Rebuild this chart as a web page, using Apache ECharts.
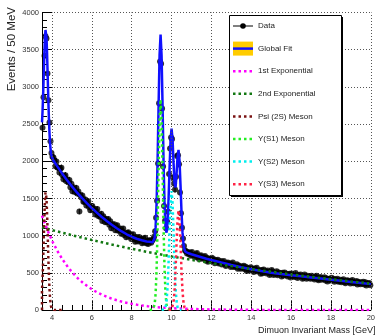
<!DOCTYPE html>
<html>
<head>
<meta charset="utf-8">
<script src="https://cdn.jsdelivr.net/npm/echarts@6/dist/echarts.min.js"></script>
<style>
  html, body { margin: 0; padding: 0; background: #fff; }
  #main { width: 378px; height: 336px; }
</style>
</head>
<body>
<div id="main"></div>
<script>
// Dimuon invariant mass spectrum, 50 MeV bins starting at 3.5 GeV
const binStart = 3.525;
const binWidth = 0.05;
const eventsPerBin = [
  2450, 2860, 3420, 3680, 3650, 3180, 2820, 2520, 2270, 2110, 2060, 2050,
  2011, 1934, 1996, 1916, 1914, 1848, 1899, 1911, 1813, 1757,
  1803, 1813, 1730, 1753, 1716, 1749, 1649, 1696, 1596, 1650,
  1625, 1582, 1642, 1565, 1592, 1324, 1547, 1511, 1540, 1455,
  1458, 1485, 1406, 1438, 1462, 1382, 1341, 1394, 1400, 1345,
  1361, 1285, 1326, 1359, 1263, 1282, 1251, 1295, 1198, 1259,
  1230, 1180, 1221, 1182, 1224, 1145, 1192, 1098, 1154, 1131,
  1153, 1073, 1119, 1139, 1066, 1073, 1095, 1024, 1061, 1095,
  1009, 1033, 977, 1036, 1044, 989, 1022, 954, 989, 1018,
  952, 919, 983, 958, 922, 983, 935, 956, 897, 961,
  915, 973, 899, 931, 886, 937,
  935, 905, 930, 950, 985, 1060, 1240, 1470, 1970, 2780,
  3340, 3310, 2710, 1930, 1400, 1200, 1100, 1190, 1320, 1830,
  2170, 2320, 2300, 1780, 1700, 1620, 1790, 2070, 2080, 1960,
  1580, 1300, 1105, 960, 860, 800, 790, 760, 780, 750,
  770, 730, 779, 736, 744, 709, 751, 766, 712, 685,
  722, 736, 690, 713, 696, 725, 667, 704, 648, 689,
  679, 659, 704, 661, 684, 630, 668, 651, 676, 626,
  634, 658, 612, 638, 659, 612, 591, 630, 640, 608,
  624, 579, 611, 637, 579, 596, 581, 614, 555, 599,
  584, 556, 586, 564, 595, 548, 582, 525, 565, 554,
  531, 574, 544, 555, 511, 559, 530, 567, 516, 530,
  534, 487, 537, 494, 546, 511, 522, 492, 532, 512,
  469, 490, 538, 517, 470, 499, 485, 522, 467, 503,
  486, 493, 449, 501, 463, 505, 470, 487, 452, 476,
  486, 438, 492, 455, 465, 444, 497, 467, 430, 471,
  450, 477, 462, 419, 435, 477, 451, 421, 461, 433,
  452, 421, 462, 430, 437, 411, 446, 460, 418, 399,
  430, 443, 408, 428, 416, 441, 396, 428, 383, 418,
  412, 397, 434, 401, 421, 379, 411, 398, 419, 381,
  388, 408, 373, 395, 412, 377, 360, 393, 401, 378,
  391, 357, 383, 405, 359, 374, 362, 390, 343, 380,
  368, 347, 372, 355, 381, 344, 372, 328, 359, 352,
  362, 334
];

// Fitted model curves: [mass (GeV), events / 50 MeV]
const globalFit = [
  [3.5, 2523], [3.525, 2659], [3.55, 2838], [3.575, 3053], [3.6, 3283], [3.625, 3501],
  [3.65, 3671], [3.675, 3765], [3.69, 3776], [3.7, 3764], [3.725, 3665], [3.75, 3486],
  [3.775, 3254], [3.8, 3002], [3.825, 2760], [3.85, 2551], [3.875, 2385], [3.9, 2260],
  [3.925, 2174], [3.95, 2116], [3.975, 2078], [4.0, 2053], [4.05, 2020], [4.1, 1996],
  [4.25, 1938], [4.5, 1840], [4.75, 1748], [5.0, 1662], [5.25, 1582], [5.5, 1507],
  [5.75, 1437], [6.0, 1371], [6.25, 1309], [6.5, 1251], [6.75, 1197], [7.0, 1146],
  [7.25, 1099], [7.5, 1056], [7.75, 1018], [8.0, 985], [8.25, 958], [8.5, 937],
  [8.75, 922], [8.9, 917], [8.95, 913], [9.0, 910], [9.05, 909], [9.1, 919],
  [9.15, 966], [9.2, 1107], [9.25, 1430], [9.3, 2003], [9.35, 2754], [9.4, 3430],
  [9.45, 3703], [9.5, 3423], [9.55, 2739], [9.6, 1982], [9.65, 1409], [9.7, 1107],
  [9.75, 1040], [9.8, 1170], [9.85, 1478], [9.9, 1898], [9.95, 2279], [10.0, 2438],
  [10.05, 2302], [10.1, 1982], [10.15, 1706], [10.2, 1649], [10.25, 1818], [10.3, 2054],
  [10.35, 2152], [10.4, 2010], [10.45, 1682], [10.5, 1320], [10.55, 1043], [10.6, 884],
  [10.65, 812], [10.7, 783], [10.75, 773], [10.8, 767], [10.85, 763], [10.9, 759],
  [11.0, 750], [11.25, 730], [11.5, 710], [11.75, 690], [12.0, 672], [12.5, 638],
  [13.0, 605], [13.5, 575], [14.0, 547], [14.5, 523], [15.0, 502], [15.5, 484],
  [16.0, 468], [16.5, 453], [17.0, 438], [17.5, 423], [18.0, 408], [18.5, 393],
  [19.0, 378], [19.5, 363], [20.0, 348]
];
const firstExponential = [
  [3.5, 1268], [3.55, 1230], [3.8, 1057], [4.05, 908], [4.3, 781], [4.55, 671],
  [4.8, 577], [5.05, 496], [5.3, 426], [5.55, 366], [5.8, 315], [6.05, 270],
  [6.3, 232], [6.55, 200], [6.8, 172], [7.05, 148], [7.3, 127], [7.55, 109],
  [7.8, 94], [8.05, 80], [8.3, 69], [8.55, 59], [8.8, 51], [9.05, 44],
  [9.3, 38], [9.55, 32], [9.8, 28], [10.05, 24], [10.55, 18], [11.05, 13],
  [11.55, 10], [12.05, 7], [13.0, 4], [14.0, 2], [15.0, 1], [17.0, 0], [20.0, 0]
];
const secondExponential = [
  [3.5, 1112], [4.0, 1075], [5.0, 1006], [6.0, 941], [7.0, 880], [8.0, 823],
  [9.0, 770], [10.0, 721], [11.0, 674], [12.0, 631], [13.0, 590], [14.0, 550],
  [15.0, 515], [16.0, 478], [17.0, 446], [18.0, 414], [19.0, 384], [20.0, 355]
];
const psi2S = [
  [3.5, 0], [3.5, 263], [3.525, 410], [3.55, 600], [3.575, 826], [3.6, 1067],
  [3.625, 1296], [3.65, 1477], [3.675, 1582], [3.69, 1600], [3.7, 1592], [3.725, 1504],
  [3.75, 1336], [3.775, 1115], [3.8, 874], [3.825, 643], [3.85, 445], [3.875, 290],
  [3.9, 176], [3.925, 101], [3.95, 54], [3.975, 27], [4.0, 13], [4.05, 2], [4.1, 0], [4.5, 0]
];
const upsilon1S = [
  [8.9, 0], [9.0, 1], [9.05, 4], [9.1, 18], [9.15, 69], [9.2, 214], [9.25, 541],
  [9.3, 1118], [9.35, 1873], [9.4, 2553], [9.45, 2830], [9.5, 2553], [9.55, 1873],
  [9.6, 1118], [9.65, 541], [9.7, 214], [9.75, 69], [9.8, 18], [9.85, 4], [9.9, 1], [10.0, 0]
];
const upsilon2S = [
  [9.5, 0], [9.6, 2], [9.65, 10], [9.7, 39], [9.75, 121], [9.8, 306], [9.85, 632],
  [9.9, 1059], [9.95, 1443], [10.0, 1600], [10.05, 1443], [10.1, 1059], [10.15, 632],
  [10.2, 306], [10.25, 121], [10.3, 39], [10.35, 10], [10.4, 2], [10.5, 0]
];
const upsilon3S = [
  [9.85, 0], [9.95, 2], [10.0, 8], [10.05, 33], [10.1, 101], [10.15, 256], [10.2, 529],
  [10.25, 887], [10.3, 1209], [10.35, 1340], [10.4, 1209], [10.45, 887], [10.5, 529],
  [10.55, 256], [10.6, 101], [10.65, 33], [10.7, 8], [10.75, 2], [10.85, 0]
];

// Axis ticks
const xMajorTicks = [4, 6, 8, 10, 12, 14, 16, 18, 20];
const xMinorTicks = [4.5, 5, 5.5, 6.5, 7, 7.5, 8.5, 9, 9.5, 10.5, 11, 11.5, 12.5, 13, 13.5,
  14.5, 15, 15.5, 16.5, 17, 17.5, 18.5, 19, 19.5];

// Legend entries
const legendLabels = ['Data', 'Global Fit', '1st Exponential', '2nd Exponential',
  'Psi (2S) Meson', 'Y(S1) Meson', 'Y(S2) Meson', 'Y(S3) Meson'];

const FONT = '"Liberation Sans", Arial, Helvetica, sans-serif';
const dotDash = [2.5, 3];
const componentColors = ['#ff00ff', '#117711', '#7a1212', '#22ee22', '#00eeee', '#ff2244'];
const componentData = [firstExponential, secondExponential, psi2S, upsilon1S, upsilon2S, upsilon3S];

const dataPoints = eventsPerBin.map((v, i) => [binStart + i * binWidth, v]);

const chart = echarts.init(document.getElementById('main'), null, { renderer: 'canvas' });

const componentSeries = componentData.map((d, k) => ({
  type: 'line',
  data: d,
  showSymbol: false,
  symbol: 'none',
  z: 5,
  lineStyle: { color: componentColors[k], width: 2.5, type: dotDash, cap: 'butt' }
}));

// Legend box drawn as graphic elements
const legendX = 229.5, legendY = 15.5, legendW = 112, legendH = 180;
const rowTop = 26, rowGap = 22.6;
const symL = 233, symR = 253, textX = 258;
const graphics = [
  { type: 'rect', shape: { x: legendX + 1.5, y: legendY + 1.5, width: legendW, height: legendH },
    style: { fill: '#000' }, z: 100 },
  { type: 'rect', shape: { x: legendX, y: legendY, width: legendW, height: legendH },
    style: { fill: '#fff', stroke: '#000', lineWidth: 1 }, z: 101 }
];
legendLabels.forEach((label, i) => {
  const cy = rowTop + i * rowGap;
  if (i === 0) {
    graphics.push({ type: 'line', shape: { x1: symL, y1: cy, x2: symR, y2: cy },
      style: { stroke: '#000', lineWidth: 1 }, z: 102 });
    graphics.push({ type: 'circle', shape: { cx: (symL + symR) / 2, cy: cy, r: 2.8 },
      style: { fill: '#000' }, z: 103 });
  } else if (i === 1) {
    graphics.push({ type: 'rect', shape: { x: symL, y: cy - 7, width: symR - symL, height: 14 },
      style: { fill: '#ffcc00' }, z: 102 });
    graphics.push({ type: 'line', shape: { x1: symL, y1: cy, x2: symR, y2: cy },
      style: { stroke: '#1010ff', lineWidth: 2.5 }, z: 103 });
  } else {
    graphics.push({ type: 'line', shape: { x1: symL, y1: cy, x2: symR, y2: cy },
      style: { stroke: componentColors[i - 2], lineWidth: 2.5, lineDash: dotDash }, z: 102 });
  }
  graphics.push({ type: 'text', x: textX, y: cy, z: 103,
    style: { text: label, fill: '#222', font: '8px ' + FONT,
      align: 'left', verticalAlign: 'middle', textAlign: 'left', textVerticalAlign: 'middle' } });
});
// Axis titles
graphics.push({ type: 'text', x: 12, y: 7, rotation: Math.PI / 2, z: 50,
  style: { text: 'Events / 50 MeV', fill: '#222', font: '11.5px ' + FONT,
    align: 'right', verticalAlign: 'middle', textAlign: 'right', textVerticalAlign: 'middle' } });
graphics.push({ type: 'text', x: 258, y: 331, z: 50,
  style: { text: 'Dimuon Invariant Mass [GeV]', fill: '#222', font: '9px ' + FONT,
    align: 'left', verticalAlign: 'middle', textAlign: 'left', textVerticalAlign: 'middle' } });

chart.setOption({
  animation: false,
  backgroundColor: '#fff',
  textStyle: { fontFamily: FONT },
  grid: { left: 42, right: 4.5, top: 12.5, bottom: 26, containLabel: false },
  xAxis: [
    {
      type: 'value', min: 3.5, max: 20,
      axisLine: { show: true, lineStyle: { color: '#000', width: 1 } },
      axisTick: { show: true, inside: true, length: 10, customValues: xMajorTicks,
        lineStyle: { color: '#000', width: 1 } },
      axisLabel: { show: true, customValues: xMajorTicks, fontSize: 7.5, color: '#333', margin: 4,
        formatter: v => String(v) },
      splitLine: { show: false }
    },
    {
      type: 'value', min: 3.5, max: 20, position: 'bottom',
      axisLine: { show: false },
      axisTick: { show: true, inside: true, length: 5, customValues: xMinorTicks,
        lineStyle: { color: '#000', width: 1 } },
      axisLabel: { show: false },
      splitLine: { show: false }
    }
  ],
  yAxis: {
    type: 'value', min: 0, max: 4000, interval: 500,
    axisLine: { show: true, lineStyle: { color: '#000', width: 1 } },
    axisTick: { show: true, inside: true, length: 10, lineStyle: { color: '#000', width: 1 } },
    minorTick: { show: true, splitNumber: 5, length: 5, lineStyle: { color: '#000', width: 1 } },
    axisLabel: { fontSize: 7.5, color: '#333', margin: 3, formatter: v => String(v) },
    splitLine: { show: true, lineStyle: { color: '#555', width: 1, type: [1, 2] } }
  },
  graphic: graphics,
  series: [
    {
      // vertical grid lines at the major mass ticks
      type: 'line', data: [], z: 1, silent: true,
      markLine: {
        silent: true, symbol: ['none', 'none'], label: { show: false },
        lineStyle: { color: '#555', width: 1, type: [1, 2] },
        data: xMajorTicks.map(v => ({ xAxis: v }))
      }
    },
    {
      // Poisson error bars on the data
      type: 'custom', z: 2, silent: true,
      data: dataPoints,
      renderItem: function (params, api) {
        const x = api.value(0), v = api.value(1), e = Math.sqrt(v);
        const p1 = api.coord([x, v - e]);
        const p2 = api.coord([x, v + e]);
        return { type: 'line', shape: { x1: p1[0], y1: p1[1], x2: p2[0], y2: p2[1] },
          style: { stroke: '#000', lineWidth: 1 } };
      }
    },
    {
      type: 'scatter', z: 3, data: dataPoints, symbol: 'circle', symbolSize: 6,
      itemStyle: { color: '#000' }
    },
    {
      type: 'line', z: 4, data: globalFit, showSymbol: false, symbol: 'none',
      lineStyle: { color: '#1010ff', width: 2.5 }
    }
  ].concat(componentSeries)
});
</script>
</body>
</html>
